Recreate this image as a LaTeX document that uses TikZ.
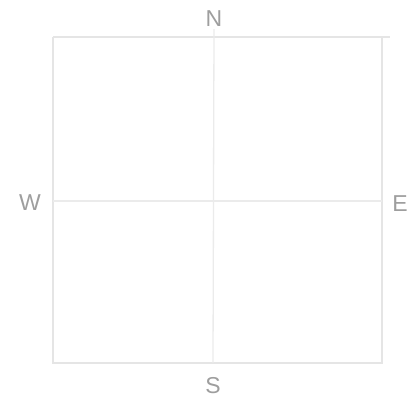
\documentclass[tikz,border=0pt]{standalone}
\usepackage{fontspec}
\setmainfont{Liberation Sans}
\begin{document}
\begin{tikzpicture}[x=1pt,y=-1pt,
  frame/.style={draw=black!10,line width=1.3pt},
  axis/.style={draw=black!8,line width=1.3pt},
  lbl/.style={text=black!38,font=\fontsize{23}{25}\selectfont,inner sep=0pt}]
\useasboundingbox (0,0) rectangle (419,405);
\node[lbl] (N) at (214,19) {N};
\node[lbl] (S) at (213,386) {S};
\node[lbl] (W) at (30,203) {W};
\node[lbl] (E) at (400,204) {E};
\coordinate (tl) at (53,37);
\coordinate (br) at (382,363);
\coordinate (wl) at (53,201);
\coordinate (er) at (382,201);
\draw[frame] (tl) |- (br) |- (tl);
\draw[frame] (382,37) -- (390,37);
\draw[axis] (N.south) ++(0,2) -- (213,363);
\draw[axis] (wl) -- (er);
\end{tikzpicture}
\end{document}
